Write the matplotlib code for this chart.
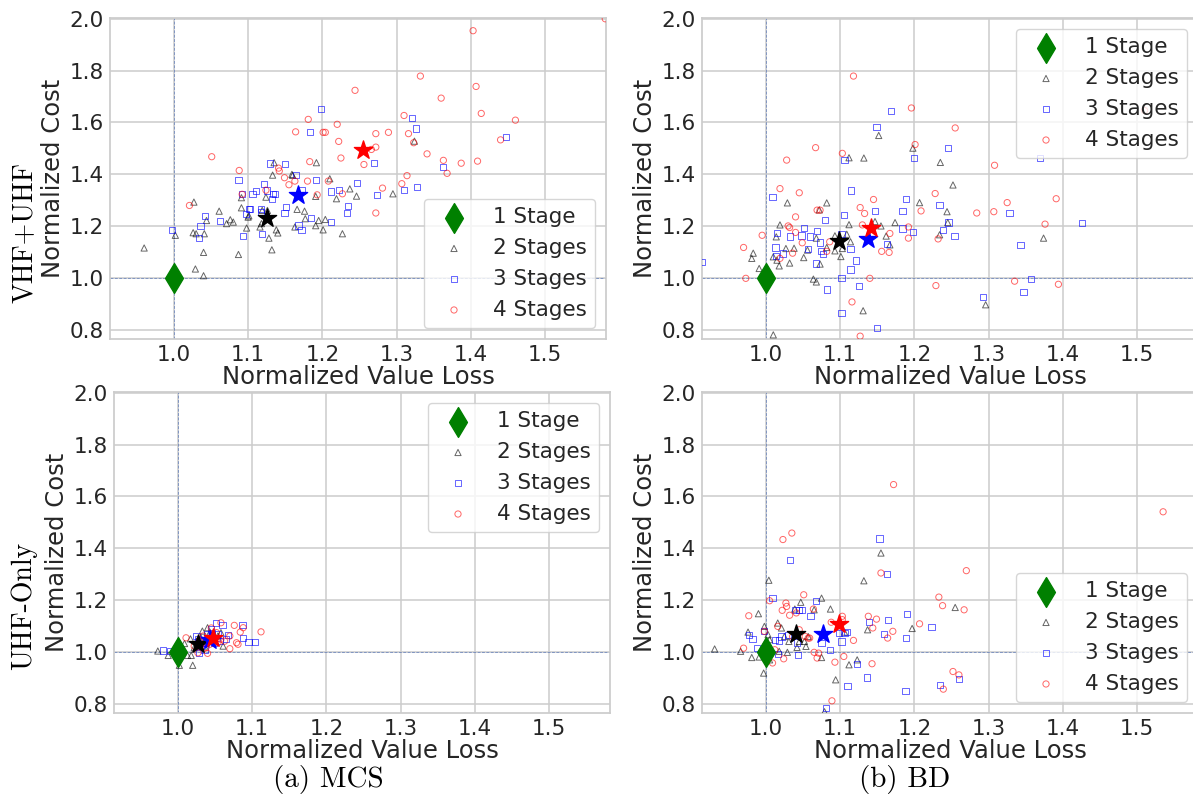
import matplotlib
matplotlib.use("Agg")
import matplotlib.pyplot as plt
import numpy as np

# ---- data (normalized value loss, normalized cost) ----
STAGE_LABELS = ["1 Stage", "2 Stages", "3 Stages", "4 Stages"]
ROW_LABELS = ["VHF+UHF", "UHF-Only"]
CAPTIONS = ["(a) MCS", "(b) BD"]
X_TICKS = [1.0, 1.1, 1.2, 1.3, 1.4, 1.5]
Y_TICKS = [0.8, 1.0, 1.2, 1.4, 1.6, 1.8, 2.0]
ONE_STAGE = (1.0, 1.0)

# MCS, VHF+UHF
MCS_VU_2 = np.array([
    (0.960, 1.116), (1.002, 1.165), (1.027, 1.293), (1.026, 1.175), (1.030, 1.171),
    (1.041, 1.171), (1.040, 1.099), (1.029, 1.035), (1.040, 1.009), (1.044, 1.222),
    (1.061, 1.258), (1.071, 1.210), (1.076, 1.225), (1.080, 1.216), (1.087, 1.091),
    (1.091, 1.310), (1.091, 1.271), (1.098, 1.193), (1.100, 1.235), (1.101, 1.240),
    (1.116, 1.197), (1.118, 1.210), (1.124, 1.312), (1.128, 1.154), (1.132, 1.109),
    (1.133, 1.397), (1.135, 1.445), (1.138, 1.186), (1.140, 1.174), (1.159, 1.400),
    (1.163, 1.197), (1.166, 1.265), (1.176, 1.258), (1.177, 1.229), (1.192, 1.445),
    (1.191, 1.315), (1.191, 1.202), (1.195, 1.222), (1.201, 1.186), (1.204, 1.226),
    (1.210, 1.383), (1.219, 1.306), (1.227, 1.171), (1.237, 1.344), (1.246, 1.316),
    (1.295, 1.325), (1.324, 1.528), (1.160, 1.396), (1.126, 1.261), (1.119, 1.261),
])
MCS_VU_3 = np.array([
    (0.998, 1.184), (1.034, 1.156), (1.036, 1.202), (1.042, 1.240), (1.062, 1.219),
    (1.087, 1.379), (1.093, 1.161), (1.092, 1.323), (1.097, 1.248), (1.101, 1.265),
    (1.103, 1.265), (1.106, 1.323), (1.111, 1.337), (1.117, 1.254), (1.119, 1.171),
    (1.121, 1.364), (1.125, 1.338), (1.130, 1.442), (1.132, 1.306), (1.133, 1.325),
    (1.136, 1.325), (1.149, 1.252), (1.150, 1.441), (1.151, 1.274), (1.165, 1.398),
    (1.168, 1.203), (1.172, 1.186), (1.173, 1.338), (1.183, 1.562), (1.185, 1.231),
    (1.191, 1.377), (1.198, 1.652), (1.212, 1.334), (1.212, 1.216), (1.222, 1.341),
    (1.233, 1.252), (1.235, 1.278), (1.247, 1.368), (1.270, 1.445), (1.274, 1.320),
    (1.310, 1.341), (1.321, 1.616), (1.326, 1.577), (1.327, 1.351), (1.363, 1.429),
    (1.447, 1.544), (1.117, 1.265),
])
MCS_VU_4 = np.array([
    (1.021, 1.280), (1.051, 1.468), (1.088, 1.415), (1.092, 1.323), (1.124, 1.339),
    (1.141, 1.424), (1.142, 1.413), (1.149, 1.387), (1.155, 1.360), (1.163, 1.374),
    (1.164, 1.564), (1.180, 1.374), (1.181, 1.612), (1.183, 1.449), (1.193, 1.321),
    (1.201, 1.562), (1.204, 1.562), (1.208, 1.374), (1.220, 1.593), (1.222, 1.527),
    (1.225, 1.463), (1.227, 1.325), (1.244, 1.724), (1.256, 1.438), (1.266, 1.496),
    (1.272, 1.557), (1.272, 1.505), (1.272, 1.251), (1.281, 1.347), (1.289, 1.562),
    (1.307, 1.364), (1.310, 1.627), (1.314, 1.395), (1.316, 1.557), (1.323, 1.522),
    (1.332, 1.779), (1.341, 1.479), (1.360, 1.694), (1.363, 1.454), (1.368, 1.404),
    (1.387, 1.443), (1.403, 1.954), (1.407, 1.739), (1.409, 1.451), (1.414, 1.635),
    (1.440, 1.533), (1.460, 1.609), (1.581, 2.000),
])
MCS_VU_MEAN = np.array([(1.125, 1.231), (1.167, 1.319), (1.255, 1.492)])

# BD, VHF+UHF
BD_VU_2 = np.array([
    (0.983, 1.096), (0.981, 1.076), (0.991, 1.037), (1.010, 0.781), (1.014, 1.159),
    (1.019, 1.205), (1.029, 1.290), (1.018, 1.047), (1.015, 1.069), (1.010, 1.082),
    (1.027, 1.114), (1.032, 1.058), (1.038, 1.115), (1.051, 1.079), (1.056, 1.108),
    (1.064, 0.996), (1.068, 0.985), (1.068, 1.154), (1.072, 1.263), (1.073, 1.054),
    (1.082, 1.290), (1.082, 1.118), (1.093, 1.105), (1.101, 1.083), (1.093, 1.163),
    (1.112, 1.464), (1.112, 1.206), (1.114, 1.140), (1.132, 1.463), (1.131, 0.874),
    (1.147, 1.218), (1.155, 1.201), (1.162, 1.162), (1.167, 1.128), (1.174, 1.214),
    (1.198, 1.501), (1.207, 1.291), (1.235, 1.446), (1.244, 1.256), (1.245, 1.214),
    (1.234, 1.167), (1.252, 1.359), (1.296, 0.897), (1.374, 1.154), (1.152, 1.550),
    (1.103, 1.114), (1.109, 1.169),
])
BD_VU_3 = np.array([
    (0.914, 1.063), (1.009, 1.313), (1.015, 1.173), (1.013, 1.118), (1.033, 1.160),
    (1.023, 1.095), (1.014, 1.086), (1.048, 1.164), (1.051, 1.192), (1.059, 1.160),
    (1.069, 1.182), (1.057, 1.112), (1.068, 1.056), (1.073, 1.137), (1.074, 1.105),
    (1.080, 1.223), (1.082, 0.956), (1.102, 1.169), (1.105, 1.242), (1.106, 1.454),
    (1.102, 1.000), (1.102, 0.865), (1.115, 1.338), (1.114, 1.112), (1.114, 1.033),
    (1.121, 1.068), (1.125, 0.968), (1.147, 1.259), (1.149, 1.583), (1.150, 0.808),
    (1.163, 1.131), (1.169, 1.644), (1.184, 1.259), (1.184, 1.191), (1.189, 1.304),
    (1.199, 1.462), (1.198, 1.178), (1.234, 1.282), (1.239, 1.185), (1.246, 1.214),
    (1.245, 1.503), (1.254, 1.162), (1.292, 0.927), (1.328, 1.251), (1.343, 1.129),
    (1.347, 0.945), (1.357, 0.995), (1.369, 1.464), (1.426, 1.213), (1.077, 1.092),
])
BD_VU_4 = np.array([
    (0.970, 1.118), (0.973, 0.999), (0.995, 1.165), (1.019, 1.345), (1.028, 1.455),
    (1.045, 1.329), (1.040, 1.236), (1.030, 1.201), (1.032, 1.195), (1.040, 1.176),
    (1.049, 1.136), (1.036, 1.096), (1.019, 1.076), (1.067, 1.503), (1.069, 1.262),
    (1.073, 1.262), (1.086, 1.140), (1.082, 1.103), (1.103, 1.481), (1.118, 1.779),
    (1.116, 0.908), (1.127, 1.272), (1.133, 1.249), (1.130, 1.205), (1.140, 0.999),
    (1.145, 1.303), (1.156, 1.103), (1.166, 1.099), (1.167, 1.172), (1.192, 1.197),
    (1.192, 1.154), (1.196, 1.656), (1.201, 1.515), (1.209, 1.259), (1.228, 1.326),
    (1.229, 0.971), (1.232, 1.151), (1.255, 1.579), (1.284, 1.251), (1.307, 1.256),
    (1.308, 1.435), (1.325, 1.291), (1.335, 0.988), (1.376, 1.208), (1.391, 1.306),
    (1.394, 0.976), (1.510, 1.646), (1.127, 0.776),
])
BD_VU_MEAN = np.array([(1.098, 1.144), (1.138, 1.149), (1.142, 1.192)])

# MCS, UHF-Only
MCS_U_2 = np.array([
    (0.973, 1.004), (0.987, 0.987), (1.002, 0.949), (1.020, 0.949), (1.013, 0.987),
    (1.018, 0.987), (1.009, 1.033), (1.017, 1.051), (1.025, 1.042), (1.029, 1.023),
    (1.033, 1.081), (1.040, 1.094), (1.043, 1.075), (1.047, 1.049), (1.054, 1.062),
    (1.061, 1.023), (1.058, 1.075), (1.022, 1.017), (1.027, 1.036), (1.036, 1.023),
    (1.007, 1.010), (0.998, 1.013), (1.038, 1.046), (1.045, 1.062), (1.031, 1.055),
])
MCS_U_3 = np.array([
    (0.980, 1.006), (0.989, 1.004), (1.002, 0.982), (1.025, 1.062), (1.029, 0.995),
    (1.036, 1.010), (1.043, 1.055), (1.046, 1.075), (1.051, 1.113), (1.054, 1.068),
    (1.060, 1.103), (1.065, 1.051), (1.068, 1.066), (1.087, 1.103), (1.088, 1.055),
    (1.095, 1.039), (1.104, 1.039), (1.038, 1.036), (1.049, 1.036), (1.031, 1.023),
    (1.027, 1.049), (1.045, 1.087), (1.056, 1.042), (1.040, 1.068), (1.052, 1.055),
])
MCS_U_4 = np.array([
    (1.000, 1.023), (1.011, 1.055), (1.027, 0.997), (1.040, 0.995), (1.045, 1.093),
    (1.054, 1.036), (1.058, 1.113), (1.070, 1.013), (1.076, 1.103), (1.079, 1.036),
    (1.081, 1.030), (1.084, 1.077), (1.088, 1.094), (1.112, 1.078), (1.034, 1.062),
    (1.049, 1.055), (1.063, 1.042), (1.022, 1.023), (1.038, 1.017), (1.052, 1.075),
    (1.029, 1.042), (1.058, 1.049), (1.043, 1.030), (1.070, 1.062),
])
MCS_U_MEAN = np.array([(1.027, 1.030), (1.043, 1.045), (1.048, 1.055)])

# BD, UHF-Only
BD_U_2 = np.array([
    (0.931, 1.012), (0.966, 1.003), (0.976, 1.077), (0.981, 0.979), (0.990, 1.148),
    (0.997, 0.919), (0.998, 1.099), (1.004, 1.277), (0.999, 1.035), (1.003, 1.067),
    (1.005, 1.048), (1.016, 1.112), (1.021, 1.093), (1.018, 1.003), (1.029, 0.999),
    (1.031, 1.041), (1.039, 1.166), (1.042, 1.018), (1.047, 1.192), (1.052, 1.041),
    (1.054, 1.022), (1.065, 1.163), (1.075, 1.208), (1.075, 0.979), (1.087, 1.166),
    (1.094, 0.893), (1.079, 0.770), (1.106, 1.077), (1.112, 0.951), (1.123, 0.970),
    (1.132, 1.275), (1.137, 1.086), (1.155, 1.382), (1.197, 1.091), (1.255, 1.172),
    (1.005, 0.970), (0.991, 0.981), (1.025, 1.060), (1.045, 1.041), (1.057, 1.060),
])
BD_U_3 = np.array([
    (0.977, 1.067), (0.982, 1.050), (0.988, 1.015), (0.998, 1.080), (1.009, 1.210),
    (1.012, 1.048), (1.018, 1.045), (1.021, 1.060), (1.016, 0.994), (1.032, 1.354),
    (1.040, 1.161), (1.043, 0.990), (1.042, 1.037), (1.045, 1.163), (1.049, 1.161),
    (1.060, 1.138), (1.068, 1.196), (1.075, 1.035), (1.086, 1.009), (1.098, 1.073),
    (1.102, 1.041), (1.106, 1.073), (1.109, 1.076), (1.110, 0.870), (1.123, 0.955),
    (1.136, 0.902), (1.139, 1.115), (1.153, 1.438), (1.159, 1.071), (1.163, 1.301),
    (1.165, 1.125), (1.188, 0.849), (1.189, 1.054), (1.190, 1.148), (1.223, 1.097),
    (1.235, 0.874), (1.260, 0.896), (1.081, 0.784), (1.002, 1.009), (1.030, 1.067),
])
BD_U_4 = np.array([
    (0.970, 1.015), (0.977, 1.140), (0.998, 1.080), (1.005, 1.198), (1.009, 0.958),
    (1.016, 1.099), (1.022, 1.161), (1.024, 0.974), (1.023, 1.434), (1.027, 1.189),
    (1.028, 1.176), (1.032, 1.142), (1.035, 1.459), (1.041, 1.151), (1.045, 1.086),
    (1.051, 1.221), (1.053, 1.060), (1.057, 1.054), (1.059, 1.054), (1.064, 1.166),
    (1.065, 0.999), (1.069, 0.977), (1.071, 0.996), (1.088, 1.115), (1.093, 0.961),
    (1.089, 0.812), (1.103, 1.138), (1.103, 1.125), (1.105, 0.983), (1.118, 1.045),
    (1.138, 1.138), (1.143, 0.955), (1.144, 1.093), (1.149, 1.127), (1.155, 1.305),
    (1.164, 1.054), (1.171, 1.080), (1.172, 1.646), (1.207, 1.109), (1.233, 1.212),
    (1.238, 1.179), (1.239, 0.857), (1.252, 0.925), (1.260, 0.912), (1.267, 1.163),
    (1.270, 1.314), (1.535, 1.541), (1.012, 1.009), (1.036, 1.060),
])
BD_U_MEAN = np.array([(1.040, 1.069), (1.077, 1.069), (1.098, 1.109)])

COLORS = ["k", "b", "r"]
MARKERS = ["^", "s", "o"]


def draw_panel(ax, groups, means, legend_loc):
    for line in (ax.axvline(1.0), ax.axhline(1.0)):
        line.set(color="#3a5fb0", lw=0.7, alpha=0.55, zorder=1, dashes=(3, 1.5))

    ax.scatter([ONE_STAGE[0]], [ONE_STAGE[1]], marker="d", s=230, color="green",
               label=STAGE_LABELS[0], zorder=4)
    for pts, c, m, lab in zip(groups, COLORS, MARKERS, STAGE_LABELS[1:]):
        ax.scatter(pts[:, 0], pts[:, 1], marker=m, s=20, facecolors="none",
                   edgecolors=c, linewidths=0.7, alpha=0.6, label=lab, zorder=3)
    for (mx, my), c in zip(means, COLORS):
        ax.scatter([mx], [my], marker="*", s=190, color=c, zorder=5)

    ax.set_xlim(0.914, 1.582)
    ax.set_ylim(0.765, 2.003)
    ax.set_xticks(X_TICKS)
    ax.set_yticks(Y_TICKS)
    ax.set_xlabel("Normalized Value Loss", fontsize=17.5, color=".15", labelpad=0)
    ax.set_ylabel("Normalized Cost", fontsize=17.5, color=".15", labelpad=3)
    ax.tick_params(labelsize=15.5, length=0, pad=4.5, colors=".15")
    ax.grid(True, color=".8", lw=1.1)
    ax.set_axisbelow(True)
    for sp in ax.spines.values():
        sp.set_color(".8")
        sp.set_linewidth(1.25)
    leg = ax.legend(loc=legend_loc, fontsize=15.5, frameon=True, borderaxespad=0.5)
    leg.get_frame().set_edgecolor(".8")
    for t in leg.get_texts():
        t.set_color(".15")


W, H = 1193, 808
fig = plt.figure(figsize=(W / 100, H / 100), dpi=100)

ax_w, ax_h = 496, 321
positions = [(110, 18), (702, 18), (114, 392), (702, 392)]
axes = [fig.add_axes([x / W, 1 - (y + ax_h) / H, ax_w / W, ax_h / H]) for x, y in positions]

draw_panel(axes[0], [MCS_VU_2, MCS_VU_3, MCS_VU_4], MCS_VU_MEAN, "lower right")
draw_panel(axes[1], [BD_VU_2, BD_VU_3, BD_VU_4], BD_VU_MEAN, "upper right")
draw_panel(axes[2], [MCS_U_2, MCS_U_3, MCS_U_4], MCS_U_MEAN, "upper right")
draw_panel(axes[3], [BD_U_2, BD_U_3, BD_U_4], BD_U_MEAN, "lower right")

serif = {"family": ["cmr10", "DejaVu Serif"], "size": 20}
fig.text(24 / W, 1 - 233 / H, ROW_LABELS[0], rotation=90, ha="center", va="center", **serif)
fig.text(24 / W, 1 - 606 / H, ROW_LABELS[1], rotation=90, ha="center", va="center", **serif)
fig.text(328 / W, 1 - 780 / H, CAPTIONS[0], ha="center", va="center",
         family=serif["family"], size=21)
fig.text(905 / W, 1 - 780 / H, CAPTIONS[1], ha="center", va="center",
         family=serif["family"], size=21)

fig.savefig("out.png", dpi=100)
